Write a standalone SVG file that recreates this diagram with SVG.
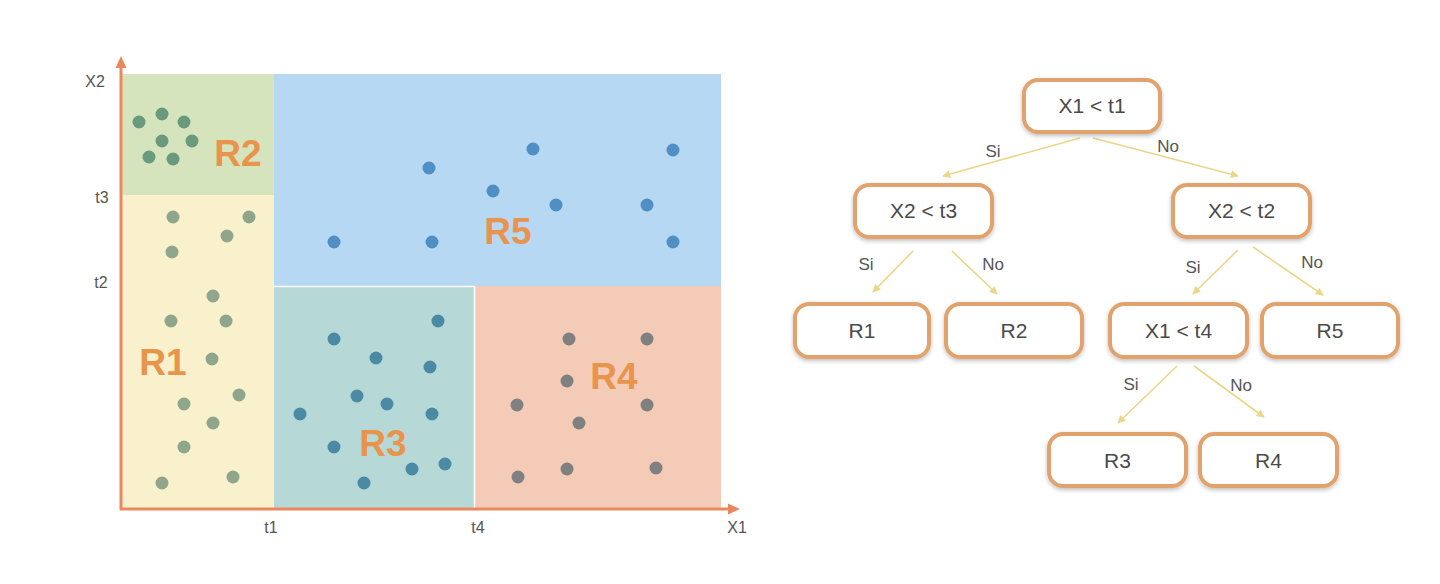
<svg xmlns="http://www.w3.org/2000/svg" width="1440" height="584" viewBox="0 0 1440 584">
<defs>
<style>
.ax{font-family:"Liberation Sans",Arial,sans-serif;font-size:16px;fill:#555;text-anchor:middle}
.big{font-family:"Liberation Sans",Arial,sans-serif;font-size:37px;font-weight:bold;fill:#e8944c;text-anchor:middle}
.nt{font-family:"Liberation Sans",Arial,sans-serif;font-size:21px;fill:#4a4a4a;text-anchor:middle}
.el{font-family:"Liberation Sans",Arial,sans-serif;font-size:17px;fill:#555;text-anchor:middle}
.box{fill:#fff;stroke:#e2a26c;stroke-width:4;filter:url(#sh)}
.edge{stroke:#ebd688;stroke-width:1.6;fill:none;marker-end:url(#ah)}
.d2{fill:#6a9a7c}.d1{fill:#8fa68c}.d3{fill:#4a8aa5}.d4{fill:#808080}.d5{fill:#4f8fc4}
</style>
<marker id="ah" viewBox="0 0 10 10" refX="9" refY="5" markerWidth="8" markerHeight="8" markerUnits="userSpaceOnUse" orient="auto"><path d="M0,0 L10,5 L0,10 z" fill="#ebd688"/></marker>
<filter id="sh" x="-10%" y="-20%" width="120%" height="150%"><feDropShadow dx="0" dy="2" stdDeviation="2" flood-color="#000" flood-opacity="0.25"/></filter>
</defs>
<rect width="1440" height="584" fill="#fff"/>

<g id="plot">
<rect x="122" y="74" width="152" height="121" fill="#d6e4bd"/>
<rect x="122" y="195" width="152" height="315" fill="#f9f0cc"/>
<rect x="274" y="74" width="447" height="212" fill="#b7d8f3"/>
<rect x="274" y="286" width="200" height="224" fill="#b6d9d8"/>
<rect x="474" y="286" width="247" height="224" fill="#f4cbb6"/>
<path d="M274,286.5 H474.5 V510" stroke="#fff" stroke-width="1.5" fill="none"/>

<g id="dots-r2" class="d2">
<circle cx="139" cy="122" r="6.5"/><circle cx="162" cy="114" r="6.5"/><circle cx="184" cy="122" r="6.5"/>
<circle cx="162" cy="141" r="6.5"/><circle cx="192" cy="141" r="6.5"/><circle cx="149" cy="157" r="6.5"/><circle cx="173" cy="159" r="6.5"/>
</g>
<g id="dots-r1" class="d1">
<circle cx="173" cy="217" r="6.5"/><circle cx="249" cy="217" r="6.5"/><circle cx="227" cy="236" r="6.5"/><circle cx="172" cy="252" r="6.5"/>
<circle cx="213" cy="296" r="6.5"/><circle cx="171" cy="321" r="6.5"/><circle cx="226" cy="321" r="6.5"/><circle cx="212" cy="359" r="6.5"/>
<circle cx="239" cy="395" r="6.5"/><circle cx="184" cy="404" r="6.5"/><circle cx="213" cy="423" r="6.5"/><circle cx="184" cy="447" r="6.5"/>
<circle cx="233" cy="477" r="6.5"/><circle cx="162" cy="483" r="6.5"/>
</g>
<g id="dots-r3" class="d3">
<circle cx="438" cy="321" r="6.5"/><circle cx="334" cy="339" r="6.5"/><circle cx="376" cy="358" r="6.5"/><circle cx="430" cy="367" r="6.5"/>
<circle cx="357" cy="396" r="6.5"/><circle cx="387" cy="404" r="6.5"/><circle cx="300" cy="414" r="6.5"/><circle cx="432" cy="414" r="6.5"/>
<circle cx="334" cy="447" r="6.5"/><circle cx="445" cy="464" r="6.5"/><circle cx="412" cy="469" r="6.5"/><circle cx="364" cy="483" r="6.5"/>
</g>
<g id="dots-r4" class="d4">
<circle cx="569" cy="339" r="6.5"/><circle cx="647" cy="339" r="6.5"/><circle cx="567" cy="381" r="6.5"/><circle cx="517" cy="405" r="6.5"/>
<circle cx="647" cy="405" r="6.5"/><circle cx="579" cy="423" r="6.5"/><circle cx="567" cy="469" r="6.5"/><circle cx="518" cy="477" r="6.5"/><circle cx="656" cy="468" r="6.5"/>
</g>
<g id="dots-r5" class="d5">
<circle cx="334" cy="242" r="6.5"/><circle cx="429" cy="168" r="6.5"/><circle cx="432" cy="242" r="6.5"/><circle cx="493" cy="191" r="6.5"/>
<circle cx="533" cy="149" r="6.5"/><circle cx="556" cy="205" r="6.5"/><circle cx="647" cy="205" r="6.5"/><circle cx="673" cy="150" r="6.5"/><circle cx="673" cy="242" r="6.5"/>
</g>

<text class="big" x="238" y="166">R2</text>
<text class="big" x="163" y="375">R1</text>
<text class="big" x="508" y="244">R5</text>
<text class="big" x="383" y="456">R3</text>
<text class="big" x="614" y="389">R4</text>

<g id="axes">
<path d="M121,510 V66" stroke="#e9885c" stroke-width="3" fill="none"/>
<path d="M115.5,68 L121,56 L126.5,68 z" fill="#e9885c"/>
<path d="M120,509 H730" stroke="#e9885c" stroke-width="3" fill="none"/>
<path d="M728,503.5 L740,509 L728,514.5 z" fill="#e9885c"/>
</g>
<text class="ax" x="95" y="87">X2</text>
<text class="ax" x="102" y="203">t3</text>
<text class="ax" x="101" y="288">t2</text>
<text class="ax" x="271" y="533">t1</text>
<text class="ax" x="478" y="533">t4</text>
<text class="ax" x="737" y="533">X1</text>
</g>

<g id="connectors">
<path class="edge" d="M1080,138 L943,176"/>
<path class="edge" d="M1093,138 L1238,176"/>
<path class="edge" d="M913,251 L873,292"/>
<path class="edge" d="M952,251 L997,294"/>
<path class="edge" d="M1238,250 L1193,294"/>
<path class="edge" d="M1253,247 L1323,295"/>
<path class="edge" d="M1177,366 L1118,423"/>
<path class="edge" d="M1194,366 L1264,417"/>
<text class="el" x="993" y="157">Si</text>
<text class="el" x="1168" y="152">No</text>
<text class="el" x="866" y="270">Si</text>
<text class="el" x="993" y="270">No</text>
<text class="el" x="1193" y="273">Si</text>
<text class="el" x="1312" y="268">No</text>
<text class="el" x="1131" y="390">Si</text>
<text class="el" x="1241" y="391">No</text>
</g>

<g id="n-root"><rect class="box" x="1024" y="80" width="136" height="52" rx="14"/><text class="nt" x="1092" y="113">X1 &lt; t1</text></g>
<g id="n-x2t3"><rect class="box" x="855" y="185" width="137" height="52" rx="14"/><text class="nt" x="923.5" y="218">X2 &lt; t3</text></g>
<g id="n-x2t2"><rect class="box" x="1173" y="185" width="137" height="52" rx="14"/><text class="nt" x="1241.5" y="218">X2 &lt; t2</text></g>
<g id="n-r1"><rect class="box" x="795" y="304" width="134" height="53" rx="14"/><text class="nt" x="862" y="338">R1</text></g>
<g id="n-r2"><rect class="box" x="946" y="304" width="136" height="53" rx="14"/><text class="nt" x="1014" y="338">R2</text></g>
<g id="n-x1t4"><rect class="box" x="1110" y="304" width="137" height="53" rx="14"/><text class="nt" x="1178.5" y="338">X1 &lt; t4</text></g>
<g id="n-r5"><rect class="box" x="1262" y="304" width="136" height="53" rx="14"/><text class="nt" x="1330" y="338">R5</text></g>
<g id="n-r3"><rect class="box" x="1049" y="434" width="137" height="52" rx="14"/><text class="nt" x="1117.5" y="468">R3</text></g>
<g id="n-r4"><rect class="box" x="1200" y="434" width="137" height="52" rx="14"/><text class="nt" x="1268.5" y="468">R4</text></g>
</svg>
